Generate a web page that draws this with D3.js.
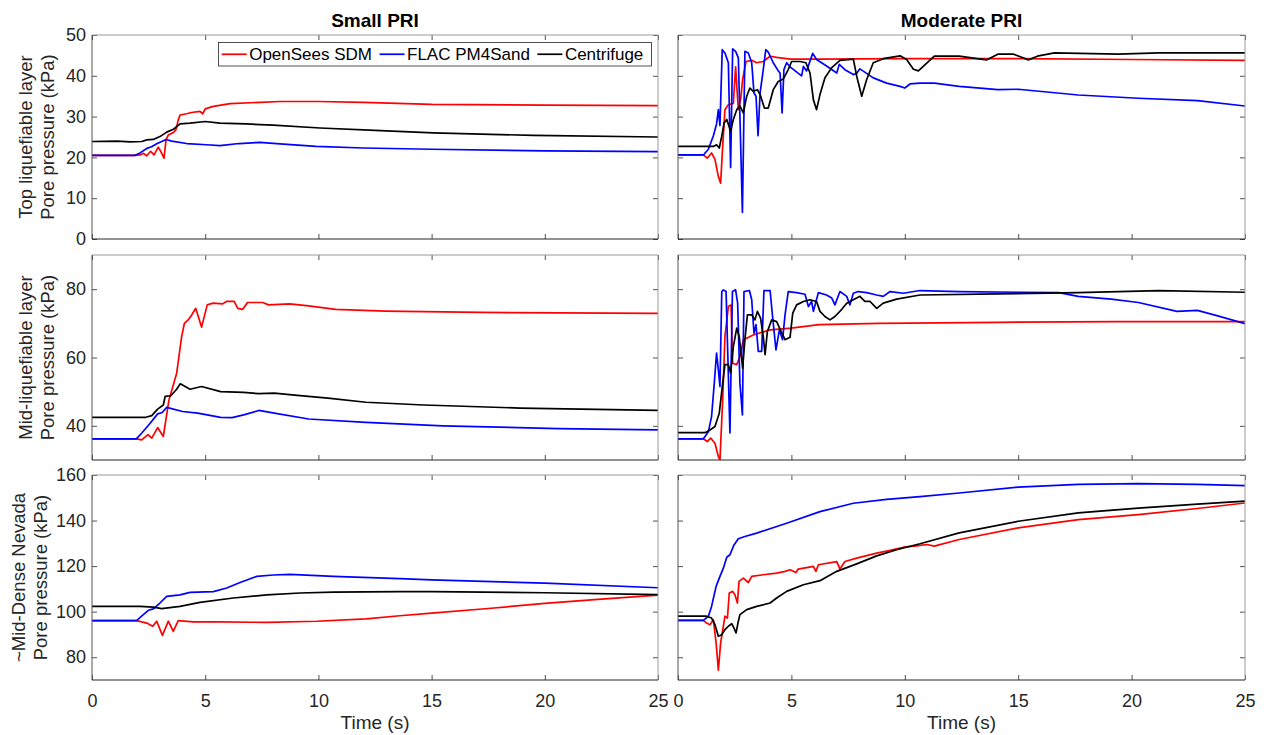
<!DOCTYPE html>
<html>
<head>
<meta charset="utf-8">
<title>Pore pressure comparison</title>
<script src="https://d3js.org/d3.v7.min.js"></script>
<style>
    body { margin: 0; background: #fff; font-family: "Liberation Sans", Arial, sans-serif; }
</style>
</head>
<body>
<div id="chart"></div>
<script>
// [time (s), pore pressure (kPa)]
const smallTopSDM = [[0,20.5],[1.9,20.5],[2.12,20.6],[2.27,21.0],[2.42,20.4],[2.59,21.5],[2.74,20.6],[2.93,22.5],[3.08,21.0],[3.18,19.8],[3.27,24.3],[3.37,25.5],[3.6,26.1],[3.71,26.8],[3.81,29.2],[3.89,30.4],[4.18,30.7],[4.4,31.0],[4.77,31.3],[4.89,30.7],[5.0,31.9],[5.36,32.5],[6.1,33.2],[7.42,33.5],[8.3,33.7],[10,33.7],[12,33.5],[15,33.0],[20,32.8],[25,32.7]];
const smallTopPM4 = [[0,20.5],[1.9,20.5],[2.12,21.1],[2.42,22.2],[2.63,22.6],[2.88,23.4],[3.08,23.9],[3.27,24.4],[3.52,24.0],[4.18,23.4],[5.06,23.1],[5.65,22.9],[6.5,23.4],[7.42,23.7],[8.3,23.3],[9.9,22.7],[12,22.3],[15,22.0],[20,21.6],[25,21.4]];
const smallTopCent = [[0,23.9],[1.1,24.0],[1.7,23.8],[2.2,23.9],[2.42,24.3],[2.71,24.4],[3.0,25.1],[3.3,26.2],[3.6,26.9],[3.89,28.2],[4.33,28.4],[5.0,28.8],[5.65,28.4],[6.8,28.2],[8.0,27.9],[10.07,27.2],[12.5,26.6],[15.07,26.0],[19.5,25.4],[25,25.0]];

const smallMidSDM = [[0,36.2],[1.96,36.2],[2.2,35.9],[2.47,37.4],[2.64,36.4],[2.9,39.5],[3.15,36.9],[3.4,47.6],[3.74,55.4],[3.96,66.1],[4.08,70.0],[4.25,71.0],[4.41,72.5],[4.58,74.4],[4.84,68.9],[5.09,75.4],[5.35,75.9],[5.77,75.7],[5.94,76.4],[6.28,76.4],[6.44,74.4],[6.66,74.1],[6.87,76.1],[7.54,76.1],[7.8,75.4],[8.73,75.7],[9.57,75.1],[10.76,74.1],[12.96,73.6],[17.2,73.2],[25,72.9]];
const smallMidPM4 = [[0,36.2],[1.96,36.2],[2.2,37.9],[2.55,40.6],[2.9,43.5],[3.1,43.9],[3.3,45.4],[4.0,44.2],[4.67,43.7],[5.68,42.5],[6.19,42.4],[6.7,43.2],[7.37,44.5],[8.05,43.7],[9.57,42.0],[12.1,41.0],[15.5,40.0],[20.6,39.2],[25,38.8]];
const smallMidCent = [[0,42.5],[2.38,42.5],[2.64,43.0],[2.9,44.9],[3.15,46.1],[3.23,48.6],[3.48,48.8],[3.74,50.7],[3.9,52.3],[4.33,50.7],[4.84,51.5],[5.68,50.0],[6.7,49.8],[7.37,49.4],[8.05,49.6],[9.07,48.9],[10.42,48.1],[12.1,46.9],[14.65,46.1],[18.9,45.2],[25,44.5]];

const smallBotSDM = [[0,96.1],[1.97,96.1],[2.42,95.0],[2.68,93.6],[2.86,95.8],[3.11,89.6],[3.37,95.8],[3.59,91.4],[3.81,96.1],[4.48,95.5],[5.5,95.5],[7.72,95.3],[9.93,95.8],[12.1,96.8],[13.6,98.2],[15,99.4],[17.5,101.4],[20,103.6],[22.5,105.5],[25,107.3]];
const smallBotPM4 = [[0,96.1],[1.97,96.1],[2.19,98.0],[2.49,100.6],[2.71,101.2],[3.0,103.8],[3.3,106.7],[3.89,107.4],[4.33,108.5],[5.36,108.8],[5.95,110.4],[6.54,112.8],[7.28,115.5],[8.0,116.1],[8.75,116.4],[10.66,115.5],[13.6,114.5],[15,114.0],[20,112.5],[25,110.5]];
const smallBotCent = [[0,102.3],[2.12,102.3],[2.71,102.0],[3.08,101.3],[3.89,102.3],[4.77,104.1],[6.24,106.0],[7.72,107.4],[9.19,108.2],[10.66,108.6],[13.6,108.8],[15,108.8],[20,108.3],[25,107.5]];

const modTopSDM = [[0,20.6],[1.12,20.6],[1.29,19.8],[1.48,21.1],[1.63,19.5],[1.78,15.3],[1.88,13.7],[1.97,22.7],[2.07,31.7],[2.22,32.9],[2.44,33.2],[2.54,42.2],[2.66,31.7],[2.76,34.1],[2.85,39.1],[3.0,43.5],[3.25,43.8],[3.47,43.2],[3.76,43.5],[4.06,44.8],[4.35,44.5],[4.94,44.1],[6.26,44.1],[10,44.2],[15,44.2],[20,44.0],[25,43.8]];
const modTopPM4 = [[0,20.6],[1.12,20.6],[1.34,22.0],[1.56,25.3],[1.7,28.2],[1.78,31.7],[1.85,27.8],[1.95,46.4],[2.07,45.6],[2.22,43.2],[2.32,17.5],[2.41,46.6],[2.54,46.0],[2.66,44.4],[2.73,30.1],[2.84,6.5],[2.95,46.0],[3.1,45.6],[3.25,43.2],[3.35,35.8],[3.44,35.0],[3.53,25.3],[3.62,35.8],[3.76,41.5],[3.87,46.4],[3.98,45.8],[4.2,43.2],[4.42,41.2],[4.5,40.7],[4.59,30.9],[4.67,41.5],[4.79,43.2],[4.94,42.2],[5.45,40.0],[5.53,42.3],[5.67,41.2],[5.94,45.5],[6.11,44.0],[6.55,42.4],[7.0,40.7],[7.11,42.8],[7.36,41.5],[7.73,40.3],[7.88,40.6],[8.02,41.7],[8.61,39.5],[9.2,38.2],[9.79,37.4],[10.0,37.0],[10.23,38.0],[10.67,38.2],[11.3,38.2],[12.4,37.4],[14.1,36.6],[15.0,36.7],[17.65,35.3],[20.3,34.5],[22.9,33.9],[25,32.6]];
const modTopCent = [[0,22.7],[1.56,22.7],[1.7,23.1],[1.82,22.3],[1.93,25.2],[2.03,28.4],[2.15,29.3],[2.32,26.4],[2.44,29.3],[2.59,31.7],[2.73,32.6],[2.88,30.9],[3.03,35.0],[3.17,37.0],[3.32,36.2],[3.5,36.6],[3.62,35.4],[3.81,32.1],[3.98,32.1],[4.2,36.6],[4.42,38.6],[4.64,39.2],[4.86,41.5],[5.01,43.5],[5.38,43.5],[5.64,43.2],[5.82,40.7],[5.97,34.1],[6.11,31.7],[6.26,35.4],[6.48,39.5],[6.78,42.0],[7.14,43.8],[7.73,44.1],[7.88,39.9],[8.1,35.0],[8.32,39.1],[8.61,43.2],[9.05,44.2],[9.79,44.9],[10.08,44.0],[10.38,41.6],[10.6,41.2],[11.3,44.8],[12.4,44.8],[13.6,43.9],[14.1,45.3],[14.8,45.3],[15.45,43.9],[15.9,44.9],[16.6,45.6],[19.4,45.3],[21.2,45.6],[25,45.6]];

const modMidSDM = [[0,36.2],[1.12,36.2],[1.29,35.4],[1.44,36.4],[1.63,34.9],[1.78,31.0],[1.85,30.0],[1.97,47.6],[2.07,66.1],[2.22,74.9],[2.34,75.4],[2.41,58.3],[2.59,57.9],[2.73,60.3],[2.88,65.2],[3.32,66.6],[4.06,68.1],[4.99,68.6],[6.22,69.6],[8.86,70.0],[14.1,70.3],[19.4,70.5],[25,70.5]];
const modMidPM4 = [[0,36.2],[1.12,36.2],[1.34,38.3],[1.48,42.7],[1.6,52.5],[1.7,61.3],[1.78,56.4],[1.85,51.5],[1.93,79.3],[2.0,79.8],[2.12,79.3],[2.19,62.2],[2.29,37.9],[2.4,79.3],[2.54,79.8],[2.63,75.9],[2.73,52.5],[2.84,43.2],[2.91,79.3],[3.15,79.6],[3.25,76.9],[3.35,67.1],[3.44,69.6],[3.54,61.8],[3.69,61.8],[3.79,79.6],[4.06,79.6],[4.17,72.0],[4.32,62.2],[4.47,68.1],[4.61,65.2],[4.72,72.5],[4.86,79.3],[5.23,79.0],[5.6,78.5],[5.75,74.9],[5.89,76.4],[5.97,73.5],[6.19,79.0],[6.55,78.3],[6.78,77.4],[6.92,75.4],[7.14,79.3],[7.44,77.9],[7.58,75.4],[7.73,78.8],[7.95,79.3],[8.32,79.0],[8.76,78.3],[9.05,77.9],[9.35,79.3],[9.94,78.8],[10.67,79.6],[12.4,79.3],[15.0,79.1],[16.8,79.0],[17.65,77.9],[19.1,77.1],[20.3,76.1],[22.0,73.5],[22.9,73.8],[23.8,72.2],[25,69.9]];
const modMidCent = [[0,38.0],[1.19,38.0],[1.41,38.8],[1.63,39.8],[1.82,43.7],[1.97,52.5],[2.07,57.9],[2.22,57.9],[2.32,55.4],[2.44,63.2],[2.59,68.6],[2.7,66.1],[2.85,56.9],[2.95,65.2],[3.06,72.5],[3.25,72.5],[3.39,71.0],[3.5,73.5],[3.64,71.5],[3.76,66.1],[3.84,60.8],[3.94,67.6],[4.13,71.0],[4.35,70.5],[4.57,67.3],[4.72,65.2],[4.94,65.9],[5.06,73.0],[5.23,75.4],[5.53,76.4],[5.82,76.9],[6.11,76.4],[6.26,73.5],[6.48,72.0],[6.7,71.0],[6.92,72.0],[7.22,74.1],[7.44,75.9],[7.73,76.9],[8.02,77.9],[8.24,76.4],[8.47,76.4],[8.76,74.4],[9.05,75.9],[9.64,77.1],[10.67,78.3],[14.1,78.6],[17.65,79.0],[21.2,79.6],[25,79.1]];

const modBotSDM = [[0,96.2],[1.12,96.2],[1.26,95.0],[1.41,94.3],[1.56,96.5],[1.68,86.3],[1.78,74.3],[1.88,86.3],[2.0,93.6],[2.07,98.0],[2.18,97.2],[2.26,108.2],[2.41,108.9],[2.51,107.4],[2.62,103.8],[2.69,113.3],[2.88,114.7],[3.1,112.8],[3.25,115.5],[3.76,116.2],[4.35,116.9],[4.72,117.7],[4.94,118.4],[5.2,117.2],[5.3,118.7],[5.97,119.9],[6.08,117.7],[6.19,120.6],[7.0,122.0],[7.14,118.7],[7.36,122.0],[7.88,123.5],[8.76,125.7],[9.35,126.9],[9.94,128.3],[10.52,128.9],[10.97,129.5],[11.3,128.8],[12.4,131.7],[15,136.8],[17.65,140.4],[20.3,142.6],[22.9,145.3],[25,147.7]];
const modBotPM4 = [[0,96.2],[1.12,96.2],[1.34,98.0],[1.48,102.3],[1.68,111.1],[1.85,115.5],[2.0,119.1],[2.15,123.9],[2.29,125.0],[2.47,129.3],[2.66,132.0],[2.95,133.0],[3.47,134.5],[4.79,138.8],[6.26,143.9],[7.73,147.6],[9.2,149.3],[10.67,150.5],[12.4,152.1],[15,154.7],[17.65,155.9],[20.3,156.2],[22.9,155.9],[25,155.3]];
const modBotCent = [[0,98.0],[1.26,98.0],[1.48,97.2],[1.63,94.3],[1.78,89.2],[1.93,89.9],[2.07,92.1],[2.22,93.6],[2.37,94.7],[2.47,92.8],[2.56,90.7],[2.66,95.8],[2.73,98.7],[3.03,100.9],[3.47,102.3],[4.06,103.8],[4.35,106.0],[4.79,108.9],[5.53,111.8],[6.26,113.6],[7.0,117.7],[7.88,121.0],[8.76,124.5],[9.64,127.2],[10.67,129.8],[12.4,134.6],[15,139.7],[17.65,143.4],[20.3,145.5],[22.9,147.2],[25,148.5]];

const seriesNames = ["OpenSees SDM", "FLAC PM4Sand", "Centrifuge"];
const seriesColors = ["#ff0000", "#0000ff", "#000000"];
const columnTitles = ["Small PRI", "Moderate PRI"];
const rowLabels = [["Top liquefiable layer", "Pore pressure (kPa)"],
                   ["Mid-liquefiable layer", "Pore pressure (kPa)"],
                   ["~Mid-Dense Nevada", "Pore pressure (kPa)"]];
const yDomains = [[0, 50], [30, 90], [70, 160]];
const yTicks = [[0, 10, 20, 30, 40, 50], [40, 60, 80], [80, 100, 120, 140, 160]];
const xTicks = [0, 5, 10, 15, 20, 25];
const xLabel = "Time (s)";

const panelData = [
    [[smallTopSDM, smallTopPM4, smallTopCent], [modTopSDM, modTopPM4, modTopCent]],
    [[smallMidSDM, smallMidPM4, smallMidCent], [modMidSDM, modMidPM4, modMidCent]],
    [[smallBotSDM, smallBotPM4, smallBotCent], [modBotSDM, modBotPM4, modBotCent]]
];

const cols = [{ left: 92, right: 658 }, { left: 678, right: 1245 }];
const rows = [{ top: 35, bottom: 239 }, { top: 255, bottom: 460 }, { top: 475, bottom: 680 }];
const ylabX = [[31.5, 53.5], [31.5, 53.5], [25, 47]];

const svg = d3.select("#chart").append("svg")
    .attr("width", 1265)
    .attr("height", 735)
    .style("font-family", "'Liberation Sans', Arial, sans-serif");

const axisColor = "#262626";

function styleAxis(g) {
    g.select(".domain").remove();
    g.selectAll(".tick line").attr("stroke", axisColor).attr("stroke-width", 0.8);
    g.selectAll(".tick text").attr("fill", axisColor).style("font-size", "18px");
}

rows.forEach((r, ri) => {
    cols.forEach((c, ci) => {
        const x = d3.scaleLinear().domain([0, 25]).range([c.left, c.right]);
        const y = d3.scaleLinear().domain(yDomains[ri]).range([r.bottom, r.top]);
        const g = svg.append("g");

        const clipId = `clip-${ri}-${ci}`;
        svg.append("clipPath").attr("id", clipId)
            .append("rect")
            .attr("x", c.left).attr("y", r.top)
            .attr("width", c.right - c.left).attr("height", r.bottom - r.top);

        // inward ticks on all four sides
        g.append("g").attr("transform", `translate(${c.left},0)`)
            .call(d3.axisLeft(y).tickValues(yTicks[ri]).tickSize(-5).tickPadding(6)
                .tickFormat(ci === 0 ? d3.format("d") : ""))
            .call(styleAxis);
        g.append("g").attr("transform", `translate(${c.right},0)`)
            .call(d3.axisRight(y).tickValues(yTicks[ri]).tickSize(-5).tickFormat(""))
            .call(styleAxis);
        g.append("g").attr("transform", `translate(0,${r.bottom})`)
            .call(d3.axisBottom(x).tickValues(xTicks).tickSize(-5).tickPadding(14)
                .tickFormat(ri === 2 ? d3.format("d") : ""))
            .call(styleAxis);
        g.append("g").attr("transform", `translate(0,${r.top})`)
            .call(d3.axisTop(x).tickValues(xTicks).tickSize(-5).tickFormat(""))
            .call(styleAxis);

        const line = d3.line().x(d => x(d[0])).y(d => y(d[1]));
        panelData[ri][ci].forEach((s, si) => {
            g.append("path")
                .datum(s)
                .attr("clip-path", `url(#${clipId})`)
                .attr("fill", "none")
                .attr("stroke", seriesColors[si])
                .attr("stroke-width", 1.7)
                .attr("stroke-linejoin", "round")
                .attr("d", line);
        });

        // axes box
        g.append("line").attr("x1", c.left).attr("x2", c.right).attr("y1", r.top).attr("y2", r.top)
            .attr("stroke", "#9a9a9a").attr("stroke-width", 1);
        g.append("line").attr("x1", c.right).attr("x2", c.right).attr("y1", r.top).attr("y2", r.bottom)
            .attr("stroke", "#9a9a9a").attr("stroke-width", 1);
        g.append("line").attr("x1", c.left).attr("x2", c.left).attr("y1", r.top).attr("y2", r.bottom)
            .attr("stroke", "#555").attr("stroke-width", 1);
        g.append("line").attr("x1", c.left).attr("x2", c.right).attr("y1", r.bottom).attr("y2", r.bottom)
            .attr("stroke", axisColor).attr("stroke-width", 1);

        if (ri === 0) {
            svg.append("text")
                .attr("x", (c.left + c.right) / 2).attr("y", 27)
                .attr("text-anchor", "middle")
                .style("font-size", "19px").style("font-weight", "bold")
                .attr("fill", "#000")
                .text(columnTitles[ci]);
        }
        if (ri === 2) {
            svg.append("text")
                .attr("x", (c.left + c.right) / 2).attr("y", 729)
                .attr("text-anchor", "middle")
                .style("font-size", "19px")
                .attr("fill", axisColor)
                .text(xLabel);
        }
        if (ci === 0) {
            rowLabels[ri].forEach((lab, li) => {
                svg.append("text")
                    .attr("transform", `translate(${ylabX[ri][li]},${(r.top + r.bottom) / 2}) rotate(-90)`)
                    .attr("text-anchor", "middle")
                    .style("font-size", "18.5px")
                    .attr("fill", axisColor)
                    .text(lab);
            });
        }
    });
});

// legend
const legend = svg.append("g");
const lgBox = { left: 218.5, right: 651.5, top: 42.5, bottom: 66 };
legend.append("rect")
    .attr("x", lgBox.left).attr("y", lgBox.top)
    .attr("width", lgBox.right - lgBox.left).attr("height", lgBox.bottom - lgBox.top)
    .attr("fill", "#fff").attr("stroke", axisColor).attr("stroke-width", 0.8);

let lx = lgBox.left + 3.2;
const ly = (lgBox.top + lgBox.bottom) / 2;
seriesNames.forEach((name, i) => {
    legend.append("line")
        .attr("x1", lx).attr("x2", lx + 25).attr("y1", ly).attr("y2", ly)
        .attr("stroke", seriesColors[i]).attr("stroke-width", 1.7);
    const t = legend.append("text")
        .attr("x", lx + 27.5).attr("y", ly + 6)
        .style("font-size", "17px")
        .attr("fill", "#000")
        .text(name);
    lx += 27.5 + t.node().getComputedTextLength() + 7.5;
});
</script>
</body>
</html>
